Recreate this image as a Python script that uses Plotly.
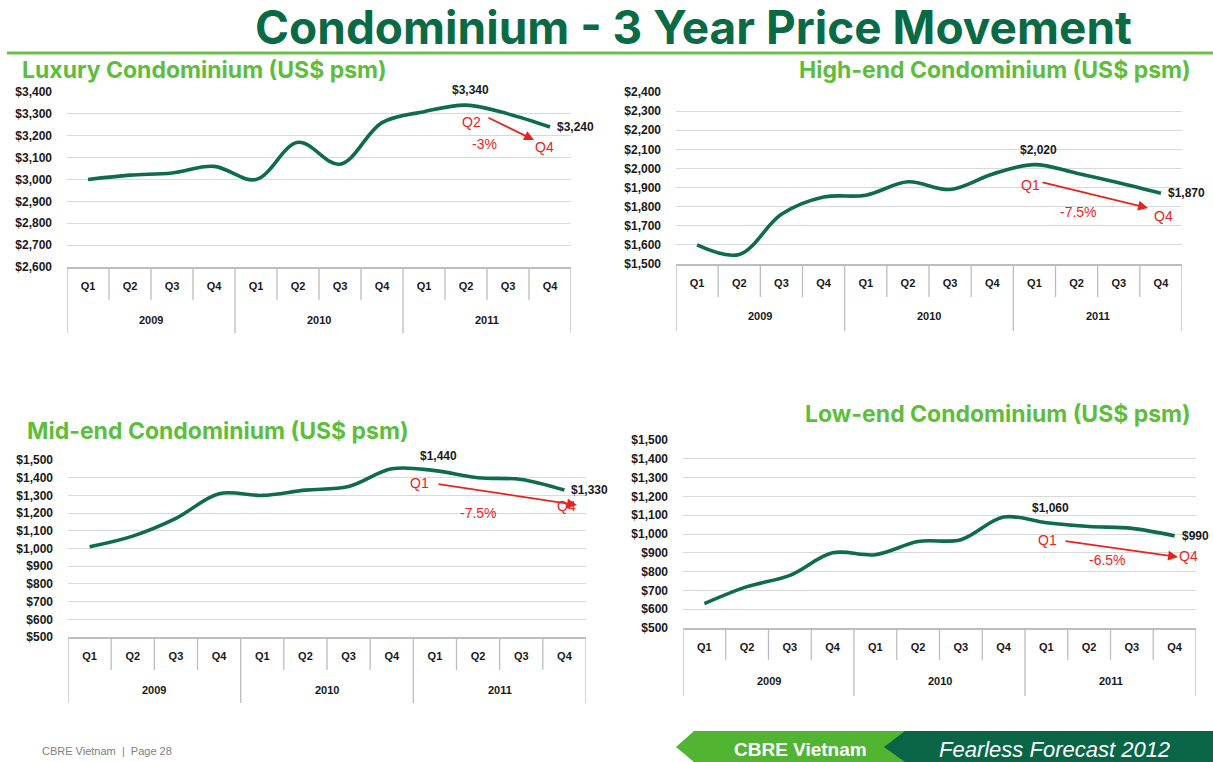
import plotly.graph_objects as go

# ---- data -------------------------------------------------------------
quarters = ["Q1", "Q2", "Q3", "Q4"]
years = ["2009", "2010", "2011"]

luxury = [3000, 3020, 3030, 3060, 3000, 3170, 3070, 3260, 3310, 3340, 3300, 3240]
high_end = [1600, 1550, 1760, 1850, 1860, 1930, 1890, 1970, 2020, 1975, 1925, 1870]
mid_end = [1010, 1070, 1170, 1310, 1300, 1330, 1350, 1450, 1440, 1400, 1390, 1330]
low_end = [630, 720, 780, 900, 890, 960, 970, 1090, 1060, 1040, 1030, 990]

# ---- page geometry helpers ------------------------------------------
W, H = 1213, 762


def px(x):
    return x / W


def py(y):
    return 1 - y / H


TITLE_GREEN = "#0A6A46"
SUB_GREEN = "#5DBE3C"
LINE_GREEN = "#0F6C4B"
RED = "#E8231E"
GRID = "#D9D9D9"
FRAME = "#BDBDBD"
TICK_FONT = "Liberation Sans, Arial, sans-serif"
HEAD_FONT = "Inter, Liberation Sans, Arial, sans-serif"
BODY_FONT = "Liberation Sans, Arial, sans-serif"

panels = [
    dict(title="Luxury Condominium (US$ psm)", values=luxury, yrange=(2600, 3400),
         x0=67, x1=571, ytop=92, ybot=267, qsep=300, ysep=333, year_y=320,
         tx=20, ty=70, tanchor="left", peak=9,
         red=dict(a=("Q2", 471, 122), b=("-3%", 484, 144), c=("Q4", 544, 147),
                  tail=(487, 117), head=(534, 140))),
    dict(title="High-end Condominium (US$ psm)", values=high_end, yrange=(1500, 2400),
         x0=676, x1=1182, ytop=92, ybot=264, qsep=297, ysep=331, year_y=316,
         tx=1193, ty=70, tanchor="right", peak=8,
         red=dict(a=("Q1", 1030, 185), b=("-7.5%", 1078, 212), c=("Q4", 1163, 216),
                  tail=(1041, 182), head=(1148, 208))),
    dict(title="Mid-end Condominium (US$ psm)", values=mid_end, yrange=(500, 1500),
         x0=68, x1=586, ytop=460, ybot=637, qsep=670, ysep=703, year_y=690,
         tx=25, ty=431, tanchor="left", peak=8,
         red=dict(a=("Q1", 419, 483), b=("-7.5%", 478, 513), c=("Q4", 566, 506),
                  tail=(437, 484), head=(577, 505))),
    dict(title="Low-end Condominium (US$ psm)", values=low_end, yrange=(500, 1500),
         x0=683, x1=1196, ytop=440, ybot=628, qsep=660, ysep=696, year_y=681,
         tx=1193, ty=414, tanchor="right", peak=8,
         red=dict(a=("Q1", 1047, 540), b=("-6.5%", 1107, 560), c=("Q4", 1188, 556),
                  tail=(1064, 541), head=(1178, 557))),
]

fig = go.Figure()
annotations = []
shapes = []
layout_axes = {}

tick_text = quarters * len(years)
xs = list(range(len(tick_text)))
tick_font = dict(family=TICK_FONT, size=11, color="#1A1A1A", weight="bold")
value_font = dict(family=TICK_FONT, size=12, color="#1A1A1A", weight="bold")

for i, p in enumerate(panels, start=1):
    sfx = "" if i == 1 else str(i)
    xname, yname = "x" + sfx, "y" + sfx

    fig.add_trace(go.Scatter(
        x=xs, y=p["values"], mode="lines", xaxis=xname, yaxis=yname,
        line=dict(color=LINE_GREEN, width=3.6, shape="spline", smoothing=1.0),
        hoverinfo="skip", showlegend=False))

    layout_axes["xaxis" + sfx] = dict(
        domain=[px(p["x0"]), px(p["x1"])], anchor=yname,
        range=[-0.5, len(xs) - 0.5], tickvals=xs, ticktext=tick_text,
        showgrid=False, zeroline=False, showline=True, linecolor=FRAME, linewidth=1.5,
        ticks="", ticklabelstandoff=8, tickfont=tick_font, automargin=False)
    layout_axes["yaxis" + sfx] = dict(
        domain=[py(p["ybot"]), py(p["ytop"])], anchor=xname,
        range=list(p["yrange"]), dtick=100, tick0=p["yrange"][0],
        tickprefix="$", tickformat=",d", showgrid=True, gridcolor=GRID, gridwidth=1,
        zeroline=False, showline=False, ticks="", ticklabelstandoff=14,
        tickfont=value_font, automargin=False)

    # table-style separators under the category axis
    for k in range(len(xs) + 1):
        bottom = p["ysep"] if k % len(quarters) == 0 else p["qsep"]
        shapes.append(dict(type="line", xref=xname, yref="paper",
                           x0=k - 0.5, x1=k - 0.5, y0=py(p["ybot"]), y1=py(bottom),
                           line=dict(color=FRAME, width=1.3)))

    # year labels centred under each group of quarters
    for j, yr in enumerate(years):
        annotations.append(dict(
            x=j * len(quarters) + (len(quarters) - 1) / 2, y=py(p["year_y"]),
            xref=xname, yref="paper", xanchor="center", yanchor="middle",
            text=yr, showarrow=False, font=tick_font))

    # value labels at the peak and at the latest quarter
    vals = p["values"]
    pk, last = p["peak"], len(vals) - 1
    annotations.append(dict(
        x=pk, y=vals[pk], xref=xname, yref=yname, text=f"${vals[pk]:,}",
        xanchor="center", yanchor="middle",
        showarrow=False, yshift=15, xshift=4, font=value_font))
    annotations.append(dict(
        x=last, y=vals[last], xref=xname, yref=yname, text=f"${vals[last]:,}",
        showarrow=False, xanchor="left", yanchor="middle", xshift=5, font=value_font))

    # panel heading
    annotations.append(dict(
        x=px(p["tx"]), y=py(p["ty"]), xref="paper", yref="paper",
        xanchor=p["tanchor"], yanchor="middle", text=p["title"], showarrow=False,
        font=dict(family=HEAD_FONT, size=23, color=SUB_GREEN, weight="bold")))

    # red change call-out
    r = p["red"]
    for key in ("a", "b", "c"):
        txt, cx, cy = r[key]
        annotations.append(dict(
            x=px(cx), y=py(cy), xref="paper", yref="paper", text=txt, showarrow=False,
            xanchor="center", yanchor="middle",
            font=dict(family=BODY_FONT, size=14, color=RED)))
    (tx, ty), (hx, hy) = r["tail"], r["head"]
    annotations.append(dict(
        x=px(hx), y=py(hy), xref="paper", yref="paper", text="",
        showarrow=True, ax=tx - hx, ay=ty - hy, axref="pixel", ayref="pixel",
        arrowhead=2, arrowsize=1.1, arrowwidth=1.8, arrowcolor=RED,
        standoff=0, startstandoff=0))

# ---- slide heading and rule ----------------------------------------------
annotations.append(dict(
    x=px(694), y=py(27), xref="paper", yref="paper", text="Condominium - 3 Year Price Movement",
    showarrow=False, xanchor="center", yanchor="middle",
    font=dict(family=HEAD_FONT, size=46, color=TITLE_GREEN, weight="bold")))
shapes.append(dict(type="line", xref="paper", yref="paper",
                   x0=px(7), x1=px(1213), y0=py(53), y1=py(53),
                   line=dict(color="#6CC04A", width=3)))

# ---- footer ---------------------------------------------------------------


def path(points):
    return "M " + " L ".join(f"{px(a):.5f} {py(b):.5f}" for a, b in points) + " Z"


shapes.append(dict(type="path", xref="paper", yref="paper",
                   path=path([(676, 747), (694, 731), (910, 731), (910, 762), (694, 762)]),
                   fillcolor="#52B531", line=dict(width=0)))
shapes.append(dict(type="path", xref="paper", yref="paper",
                   path=path([(884, 747), (905, 731), (1213, 731), (1213, 762), (905, 762)]),
                   fillcolor="#0A6546", line=dict(width=0)))
annotations.append(dict(
    x=px(800), y=py(749), xref="paper", yref="paper", text="<b>CBRE Vietnam</b>",
    xanchor="center", yanchor="middle",
    showarrow=False, font=dict(family=BODY_FONT, size=19, color="white")))
annotations.append(dict(
    x=px(1054), y=py(749), xref="paper", yref="paper", text="<i>Fearless Forecast 2012</i>",
    xanchor="center", yanchor="middle",
    showarrow=False, font=dict(family=BODY_FONT, size=22, color="white")))
annotations.append(dict(
    x=px(40), y=py(751), xref="paper", yref="paper", xanchor="left", yanchor="middle",
    text="CBRE Vietnam  |  Page 28", showarrow=False,
    font=dict(family=BODY_FONT, size=11, color="#808080")))

fig.update_layout(
    width=W, height=H, margin=dict(l=0, r=0, t=0, b=0, pad=0), autosize=False,
    paper_bgcolor="white", plot_bgcolor="white",
    showlegend=False, annotations=annotations, shapes=shapes, **layout_axes)

fig.write_html("out.html")
